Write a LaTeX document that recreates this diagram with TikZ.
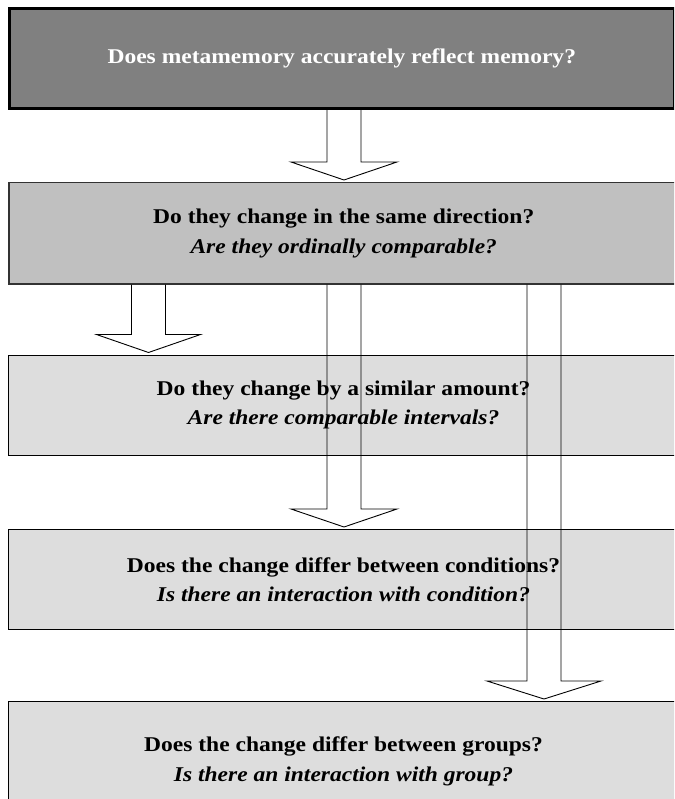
\documentclass[tikz,border=0pt]{standalone}
\usepackage{fontspec}
\setmainfont{Liberation Serif}[FakeStretch=1.12]
\usetikzlibrary{calc}

\definecolor{topfill}{HTML}{808080}
\definecolor{midfill}{HTML}{C0C0C0}
\definecolor{lowfill}{HTML}{DDDDDD}

\tikzset{
  qbox/.style={anchor=north west, inner sep=0pt, align=center,
    font=\fontsize{21}{29.5}\selectfont\bfseries, text=black},
  qmain/.style={qbox, fill=topfill, draw=black, line width=2.5pt, text=white,
    minimum width=665pt, minimum height=100pt},
  qsecond/.style={qbox, fill=midfill, draw=black!80, line width=1.5pt,
    minimum width=670pt, minimum height=101pt},
  qlower/.style={qbox, fill=lowfill, draw=black, line width=1pt,
    minimum width=670pt, minimum height=100pt},
  blockarrow/.style={draw=black, line width=0.9pt, line join=miter}
}

% hollow block arrow: #1 from node, #2 to node, #3 centre x, #4 shaft half width, #5 head half width
\newcommand{\blockarrow}[5]{%
  \draw[blockarrow]
    ($(#3,0 |- #1.south)+(-#4,0)$) --
    ($(#3,0 |- #2.north)+(-#4,-20)$) --
    ($(#3,0 |- #2.north)+(-#5,-20)$) --
    ($(#3,0 |- #2.north)+(0,-2)$) --
    ($(#3,0 |- #2.north)+(#5,-20)$) --
    ($(#3,0 |- #2.north)+(#4,-20)$) --
    ($(#3,0 |- #1.south)+(#4,0)$);
}

\begin{document}
\begin{tikzpicture}[x=1pt, y=-1pt]
  \useasboundingbox (0,0) rectangle (674,799);
  \clip (0,0) rectangle (674,799);

  \node[qmain] (q1) at (8,7.5) {\raisebox{-3pt}{Does metamemory accurately reflect memory?}};
  \node[qsecond] (q2) at (8,182) {Do they change in the same direction?\\\textit{Are they ordinally comparable?}};
  \node[qlower] (q3) at (8,354.5) {Do they change by a similar amount?\\\textit{Are there comparable intervals?}};
  \node[qlower] (q4) at (8,529) {Does the change differ between conditions?\\\textit{Is there an interaction with condition?}};
  \node[qlower, minimum height=120pt] (q5) at (8,701) {Does the change differ between groups?\\\textit{Is there an interaction with group?}};

  \blockarrow{q1}{q2}{344}{17}{53}
  \blockarrow{q2}{q3}{148.5}{17}{52}
  \blockarrow{q2}{q4}{344}{17}{53}
  \blockarrow{q2}{q5}{544}{17}{57}
\end{tikzpicture}
\end{document}
